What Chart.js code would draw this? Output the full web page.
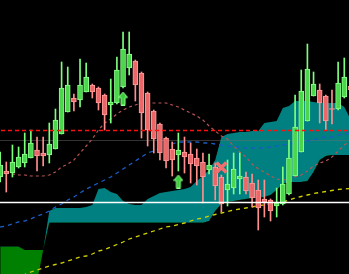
<!DOCTYPE html>
<html>
<head>
<meta charset="utf-8">
<script src="https://cdn.jsdelivr.net/npm/chart.js@4/dist/chart.umd.min.js"></script>
<style>
html,body{margin:0;padding:0;background:#000;overflow:hidden;}
canvas{display:block;}
</style>
</head>
<body>
<canvas id="c" width="349" height="274"></canvas>
<script>
// ---- data (arbitrary price units) ----
const bars = [0,1,2,3,4,5,6,7,8,9,10,11,12,13,14,15,16,17,18,19,20,21,22,23,24,25,26,27,28,29,
  30,31,32,33,34,35,36,37,38,39,40,41,42,43,44,45,46,47,48,49,50,51,52,53,54,55,56,57];

const open  = [97,103,101,107,111,116,124,121,119,125,140,162,176,174,182,189,186,179,169,171,
  187,206,213,201,181,163,150,136,125,119,122,120,116,112,104,107,97,84,86,95,
  97,91,84,75,74,68,70,80,98,122,153,178,184,178,165.5,165,177,188];
const high  = [122,112,129,127,141,144,137,137,151,165,212,207,180,215,211,190,187,180,195,217,
  242,242,214,202,182,164,151,137,132,141,137,131,125,121,120,111,99,114,121,121,
  102,100,94,94,75,86,107,134,179,204,230,202,190,179,184,212,216,194];
const low   = [92,82,97,106,107,116,103,108,111,125,140,162,163,167,182,176,164,144,151,170,
  186,199,173,136,128,121,114,106,98,103,101,91,89,71,100,74,62,68,80,80,
  80,67,44,57,53,57,69,79,98,122,153,178,151,144,150,164,176,179];
const close = [109,100,112,117,120,131,118,118,130,154,186,189,172,189,197,182,171,159,172,204,
  225,220,189,161,144,135,121,113,114,124,117,110,108,97,109,88,70,90,105,98,
  83,76,66,72,63,71,90,116,147,183,205,190,171,153,164.5,191,197,184];

const spanA = [-70,-65,-60,-55,-45,-30,-8,24,63,66,66,66,66,66,67,69,85,86,82,80,
  73,70,69,69,75,78,81,82,83,84,85,87,93,98,104,114,137,140,141,142,
  142,143,143,151,152,153,166,168,173,173,173,172,171,171,171,171,167,155];
const spanB = [27.5,27.5,27.5,27.5,24,24,24,24,51.3,51.3,51.3,51.3,51.3,51.3,51.3,51.3,51.3,51.3,51.3,51.3,
  51.3,51.3,51.3,51.3,51.3,51.3,51.3,51.3,51.3,51.3,51.3,51.3,51.3,51.3,53,63,70,72,73,74,
  75,76,76,77,79,84,90,92,92,92,93,102,114,118,119,119,119,119];

const pinkAvg = [102,101,100,99,99,98,98,98,99,102,107,110,114,121,128,135,144,151,155,160,
  164,167,169,171,171,171,171,171,169,167,164,161,158,154,148,143,138,135,128,122,
  117,110,105,102,98,95,94,95,97,99,103,108,111,113,117,123,129,133];
const blueAvg = [47,48,50,52,53,55,58,60,63,67,70,74,77,81,85,88,91,94,97,101,
  105,109,113,117,121,123,125,128,130,132,132,132,132,131,131,130,129,128,127,127,
  126,126,126,126,127,128,129,130,131,132,133,134,136,137,137,139,140,141];
const yellowAvg = [-10,-8,-5,-3,-0.5,2,4,6,8,9.5,11,13,15,17,18,20,23,24.5,27,29.5,
  32,35,37,39,41,43,45,47,48,49.5,51,53,55,56,58,59.5,61,62.5,64,65,
  66,67,68.5,69,70,71,72,74,76,77.5,79,80.5,81.5,82.5,83.5,84.5,85,85.5];

const redLevel = 143.5;
const whiteLevel = 71.5;
const greyLevel = 133.5;

const buyArrowBars = [20, 29];
const buyArrowValues = [175.5, 92.5];
const sellCrossBars = [36];
const sellCrossValues = [106.5];

// ---- styling ----
const UP_BODY = '#4cd64c', UP_EDGE = '#8cff8c', UP_WICK = '#7cff7c';
const DN_BODY = '#ec6868', DN_EDGE = '#ff9c9c', DN_WICK = '#ff8e8e';

const isUp = i => close[i] >= open[i];
const xy = arr => bars.map((b, k) => ({x: b, y: arr[k]}));
const firstBar = bars[0], lastBar = bars[bars.length - 1];
const hline = v => [{x: firstBar - 1, y: v}, {x: lastBar + 1, y: v}];

function arrowImage() {
  const c = document.createElement('canvas');
  c.width = 10; c.height = 14;
  const g = c.getContext('2d');
  g.beginPath();
  g.moveTo(5, 0.5); g.lineTo(9.5, 6); g.lineTo(7, 6); g.lineTo(7, 13.5);
  g.lineTo(3, 13.5); g.lineTo(3, 6); g.lineTo(0.5, 6); g.closePath();
  g.fillStyle = '#3ccc3c'; g.fill();
  g.strokeStyle = '#8cff8c'; g.lineWidth = 1; g.stroke();
  return c;
}

const bgPlugin = {
  id: 'bg',
  beforeDraw(chart) {
    const ctx = chart.ctx;
    ctx.save(); ctx.fillStyle = '#000';
    ctx.fillRect(0, 0, chart.width, chart.height);
    ctx.restore();
  }
};

const lineBase = {type: 'line', pointRadius: 0, pointHoverRadius: 0, tension: 0, borderWidth: 1, fill: false};

new Chart(document.getElementById('c'), {
  type: 'bar',
  data: {
    datasets: [
      Object.assign({}, lineBase, {
        label: 'Span A', data: xy(spanA), borderWidth: 0, borderColor: 'rgba(0,0,0,0)',
        fill: {target: '+1', above: '#008080', below: '#008000'}, order: 100
      }),
      Object.assign({}, lineBase, {
        label: 'Span B', data: xy(spanB), borderWidth: 0, borderColor: 'rgba(0,0,0,0)', order: 101
      }),
      Object.assign({}, lineBase, {
        label: 'grid', data: hline(greyLevel), borderColor: 'rgba(110,110,110,0.45)', order: 90
      }),
      Object.assign({}, lineBase, {
        label: 'pink', data: xy(pinkAvg), borderColor: '#b85454', borderWidth: 1.2, borderDash: [3, 3], order: 80
      }),
      Object.assign({}, lineBase, {
        label: 'blue', data: xy(blueAvg), borderColor: '#1a5cc4', borderWidth: 1.3, borderDash: [4, 4], order: 80
      }),
      Object.assign({}, lineBase, {
        label: 'yellow', data: xy(yellowAvg), borderColor: '#d2d200', borderWidth: 1.3, borderDash: [4, 4], order: 80
      }),
      {
        type: 'bar', label: 'wicks',
        data: bars.map((b, k) => ({x: b, y: [low[k], high[k]]})),
        backgroundColor: c => isUp(c.dataIndex) ? UP_WICK : DN_WICK,
        borderWidth: 0, barThickness: 1, grouped: false, order: 50
      },
      {
        type: 'bar', label: 'bodies',
        data: bars.map((b, k) => ({x: b, y: [open[k], close[k]]})),
        backgroundColor: c => isUp(c.dataIndex) ? UP_BODY : DN_BODY,
        borderColor: c => isUp(c.dataIndex) ? UP_EDGE : DN_EDGE,
        borderWidth: 1, borderSkipped: false, barThickness: 5, grouped: false, order: 40
      },
      Object.assign({}, lineBase, {
        label: 'buy', showLine: false,
        data: buyArrowBars.map((b, k) => ({x: b, y: buyArrowValues[k]})),
        pointRadius: 5, pointStyle: arrowImage(), order: 30
      }),
      Object.assign({}, lineBase, {
        label: 'sell', showLine: false,
        data: sellCrossBars.map((b, k) => ({x: b, y: sellCrossValues[k]})),
        pointRadius: 7, pointStyle: 'crossRot', pointBorderColor: '#f07070',
        pointBorderWidth: 3.5, order: 30
      }),
      Object.assign({}, lineBase, {
        label: 'red level', data: hline(redLevel), borderColor: '#ff1010', borderWidth: 1.5,
        borderDash: [4, 3], order: 20
      }),
      Object.assign({}, lineBase, {
        label: 'white level', data: hline(whiteLevel), borderColor: '#ffffff', borderWidth: 1.5, order: 20
      })
    ]
  },
  options: {
    responsive: false,
    animation: false,
    devicePixelRatio: 1,
    layout: {padding: 0, autoPadding: false},
    plugins: {legend: {display: false}, tooltip: {enabled: false}},
    scales: {
      x: {type: 'linear', display: false, min: -0.024, max: 56.77, offset: false},
      y: {type: 'linear', display: false, min: 0, max: 274}
    }
  },
  plugins: [bgPlugin]
});
</script>
</body>
</html>
